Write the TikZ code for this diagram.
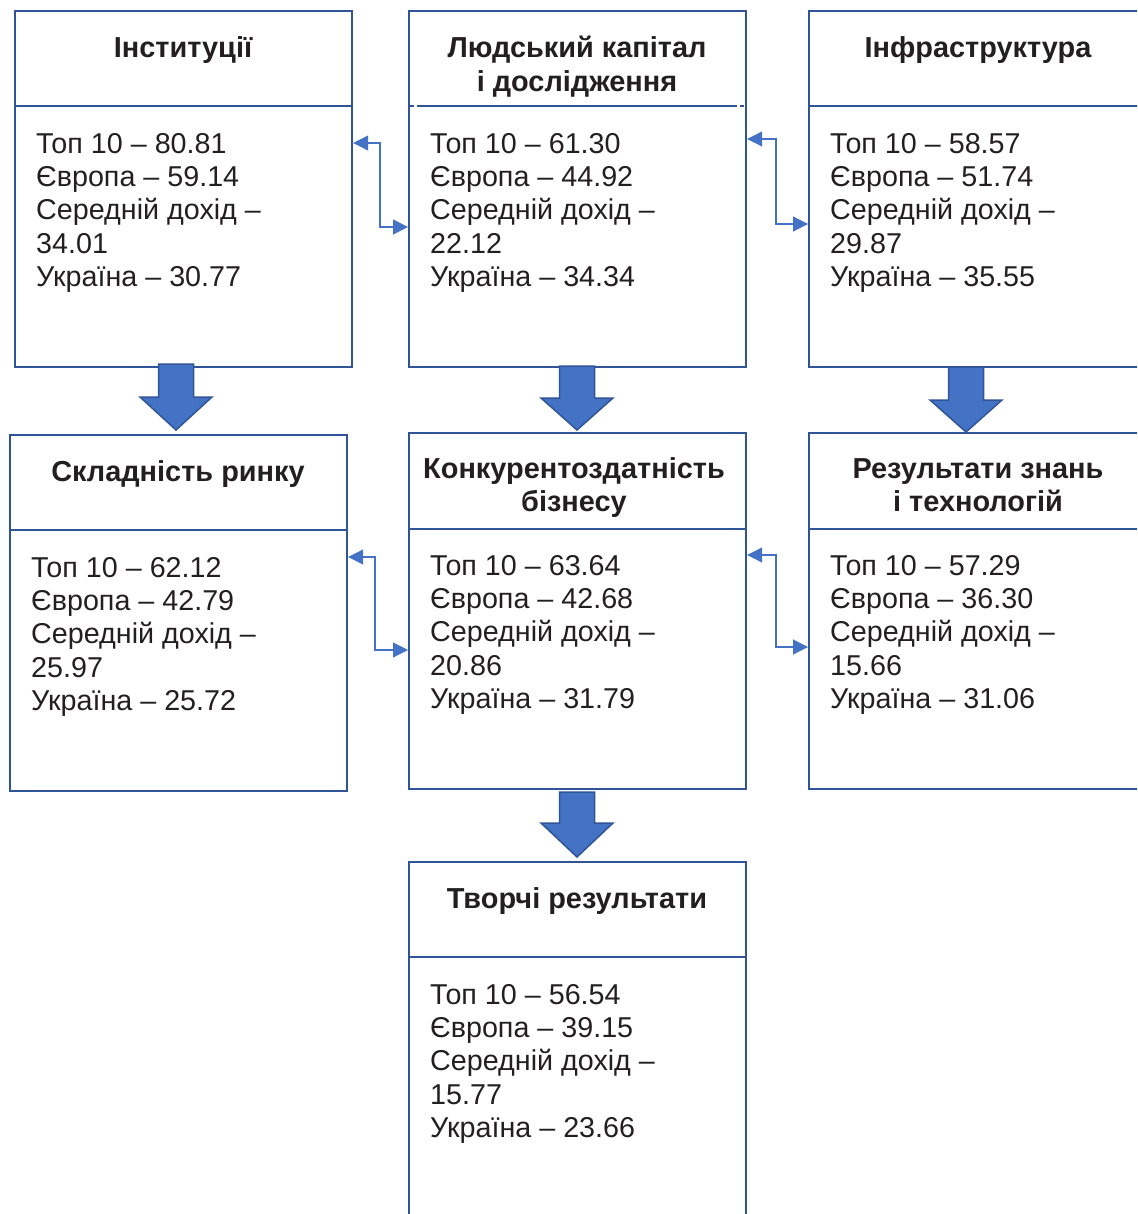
\documentclass[tikz,border=0pt]{standalone}
\usepackage{fontspec}
\setmainfont{Liberation Sans}
\usetikzlibrary{arrows.meta,calc}
\definecolor{boxblue}{RGB}{47,85,151}
\definecolor{fillblue}{RGB}{68,114,196}
\definecolor{txt}{RGB}{35,31,32}
\tikzset{
  x=1pt,y=-1pt,
  box/.style={draw=boxblue,line width=2.2pt,rectangle,anchor=north west,minimum width=337pt,minimum height=356pt,inner sep=0pt},
  sep/.style={draw=boxblue,line width=2pt},
  ttl/.style={anchor=north,inner sep=0pt,align=center,text=txt,font=\fontsize{28.9}{33.3}\selectfont\bfseries},
  body/.style={anchor=north west,inner sep=0pt,align=left,text=txt,font=\fontsize{28.7}{33.3}\selectfont},
  conn/.style={draw=fillblue,line width=1.1pt,{Triangle[length=15pt,width=15pt]}-{Triangle[length=15pt,width=15pt]}},
  blk/.style={fill=fillblue,draw=boxblue,line width=1.5pt,line join=miter}
}
\newcommand{\blockarr}[4]{% center x, top y, head y, tip y
  \draw[blk] (#1-17.5,#2) -- (#1+17.5,#2) -- (#1+17.5,#3) -- (#1+36,#3) -- (#1,#4) -- (#1-36,#3) -- (#1-17.5,#3) -- cycle;}
\begin{document}
\begin{tikzpicture}
\useasboundingbox (0,0) rectangle (1137,1214);
\clip (0,0) rectangle (1137,1214);
% boxes
\node[box] (b1) at (14,10) {};
\node[box] (b2) at (408,10) {};
\node[box] (b3) at (808,10) {};
\node[box] (b4) at (9,434) {};
\node[box] (b5) at (408,432) {};
\node[box] (b6) at (808,432) {};
\node[box] (b7) at (408,861) {};
% separators
\draw[sep] (b1.north west |- 0,106) -- (b1.north east |- 0,106);
\draw[sep] (417,106) -- (737,106);
\draw[sep,line width=1.2pt] (410,106) -- (414,106) (740,106) -- (744,106);
\draw[sep] (b3.north west |- 0,106) -- (b3.north east |- 0,106);
\draw[sep] (b4.north west |- 0,530) -- (b4.north east |- 0,530);
\draw[sep] (b5.north west |- 0,529) -- (b5.north east |- 0,529);
\draw[sep] (b6.north west |- 0,529) -- (b6.north east |- 0,529);
\draw[sep] (b7.north west |- 0,957) -- (b7.north east |- 0,957);
% titles
\node[ttl] (t1) at (183,36) {Інституції};
\node[ttl] (t2) at (577,36) {Людський капітал\\і дослідження};
\node[ttl] (t3) at (978,36) {Інфраструктура};
\node[ttl] (t4) at (178,460) {Складність ринку};
\node[ttl] (t5) at (574,457) {Конкурентоздатність\\бізнесу};
\node[ttl] (t6) at (978,458) {Результати знань\\і технологій};
\node[ttl] (t7) at (577,887) {Творчі результати};
% bodies
\node[body] (d1) at (36,133) {Топ 10 – 80.81\\Європа – 59.14\\Середній дохід –\\34.01\\Україна – 30.77};
\node[body] (d2) at (430,133) {Топ 10 – 61.30\\Європа – 44.92\\Середній дохід –\\22.12\\Україна – 34.34};
\node[body] (d3) at (830,133) {Топ 10 – 58.57\\Європа – 51.74\\Середній дохід –\\29.87\\Україна – 35.55};
\node[body] (d4) at (31,557) {Топ 10 – 62.12\\Європа – 42.79\\Середній дохід –\\25.97\\Україна – 25.72};
\node[body] (d5) at (430,555) {Топ 10 – 63.64\\Європа – 42.68\\Середній дохід –\\20.86\\Україна – 31.79};
\node[body] (d6) at (830,555) {Топ 10 – 57.29\\Європа – 36.30\\Середній дохід –\\15.66\\Україна – 31.06};
\node[body] (d7) at (430,984) {Топ 10 – 56.54\\Європа – 39.15\\Середній дохід –\\15.77\\Україна – 23.66};
% connectors
\draw[conn] (b1.east |- 0,143) -- (380,143) -- (380,227) -- (b2.west |- 0,227);
\draw[conn] (b2.east |- 0,139) -- (776,139) -- (776,224) -- (b3.west |- 0,224);
\draw[conn] (b4.east |- 0,557) -- (375,557) -- (375,650) -- (b5.west |- 0,650);
\draw[conn] (b5.east |- 0,555) -- (776,555) -- (776,647) -- (b6.west |- 0,647);
% block arrows
\blockarr{176}{364}{397}{430}
\blockarr{577}{366}{398}{430}
\blockarr{966}{367}{400}{432}
\blockarr{577}{792}{823}{857}
\end{tikzpicture}
\end{document}
